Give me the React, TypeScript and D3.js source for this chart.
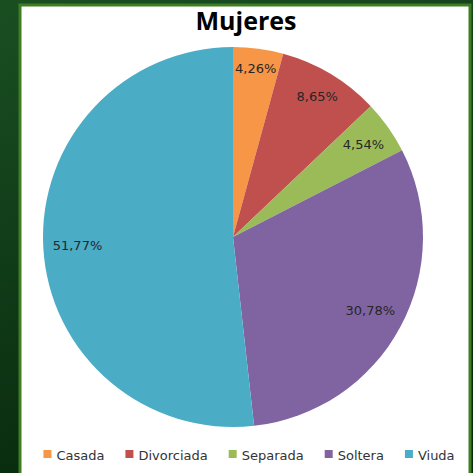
import { useMemo } from 'react';
import * as d3 from 'd3';

const categories = ['Casada', 'Divorciada', 'Separada', 'Soltera', 'Viuda'];
const values = [4.26, 8.65, 4.54, 30.78, 51.77];
const labels = ['4,26%', '8,65%', '4,54%', '30,78%', '51,77%'];
const colors = ['#F79646', '#C0504D', '#9BBB59', '#8064A2', '#4BACC6'];
const title = 'Mujeres';

const W = 473;
const H = 473;
const legendFont = '13px "DejaVu Sans"';
const labelFont = '13px "DejaVu Sans"';

// measure text so legend items / labels can be laid out
const measure = (text: string, font: string) => {
  const ctx = document.createElement('canvas').getContext('2d');
  if (!ctx) return text.length * 7;
  ctx.font = font;
  return ctx.measureText(text).width;
};

// "inside end" placement: push the label box out until its far corner touches R - pad
const insideEnd = (angle: number, halfW: number, halfH: number, limit: number) => {
  const dx = Math.sin(angle);
  const dy = -Math.cos(angle);
  let lo = 0;
  let hi = limit;
  for (let k = 0; k < 40; k++) {
    const r = (lo + hi) / 2;
    const x = r * dx;
    const y = r * dy;
    const far = Math.hypot(Math.abs(x) + halfW, Math.abs(y) + halfH);
    if (far > limit) hi = r;
    else lo = r;
  }
  return [lo * dx, lo * dy];
};

export default function App() {
  const cx = 233;
  const cy = 237;
  const radius = 190;

  const arcs = useMemo(() => {
    const pie = d3.pie<number>().sort(null).value(d => d);
    return pie(values);
  }, []);

  const arcGen = d3.arc<d3.PieArcDatum<number>>().innerRadius(0).outerRadius(radius);

  const labelPos = useMemo(
    () =>
      arcs.map((a, i) => {
        const mid = (a.startAngle + a.endAngle) / 2;
        return insideEnd(mid, measure(labels[i], labelFont) / 2, 7, radius - 9);
      }),
    [arcs]
  );

  const legendItems = useMemo(() => {
    const box = 8;
    const gap = 5;
    const spacing = 21;
    const widths = categories.map(c => box + gap + measure(c, legendFont));
    const total = d3.sum(widths) + spacing * (categories.length - 1);
    let x = 249 - total / 2;
    return categories.map((c, i) => {
      const item = { name: c, color: colors[i], x };
      x += widths[i] + spacing;
      return item;
    });
  }, []);

  return (
    <svg width={W} height={H} style={{ position: 'absolute', left: 0, top: 0 }}>
      <defs>
        <linearGradient id="bg" x1="0" y1="0" x2="0.3" y2="1">
          <stop offset="0%" stopColor="#1a4f22" />
          <stop offset="100%" stopColor="#082a0e" />
        </linearGradient>
      </defs>
      <rect x={0} y={0} width={W} height={H} fill="url(#bg)" />
      <rect x={20} y={5} width={450} height={H} fill="#fff" stroke="#3f7d22" strokeWidth={3} />

      <text
        x={246}
        y={30}
        textAnchor="middle"
        fontFamily='"Open Sans", sans-serif'
        fontWeight="bold"
        fontSize={25}
        fill="#000"
      >
        {title}
      </text>

      <g transform={`translate(${cx},${cy})`}>
        {arcs.map((a, i) => (
          <path key={categories[i]} d={arcGen(a) || ''} fill={colors[i]} />
        ))}
        {arcs.map((a, i) => (
          <text
            key={'l' + categories[i]}
            x={labelPos[i][0]}
            y={labelPos[i][1]}
            dy="0.35em"
            textAnchor="middle"
            fontFamily='"DejaVu Sans", sans-serif'
            fontSize={13}
            fill="#262626"
          >
            {labels[i]}
          </text>
        ))}
      </g>

      <g>
        {legendItems.map(it => (
          <g key={it.name} transform={`translate(${it.x},0)`}>
            <rect x={0} y={450} width={8} height={8} fill={it.color} />
            <text x={13} y={460} fontFamily='"DejaVu Sans", sans-serif' fontSize={13} fill="#333">
              {it.name}
            </text>
          </g>
        ))}
      </g>
    </svg>
  );
}
